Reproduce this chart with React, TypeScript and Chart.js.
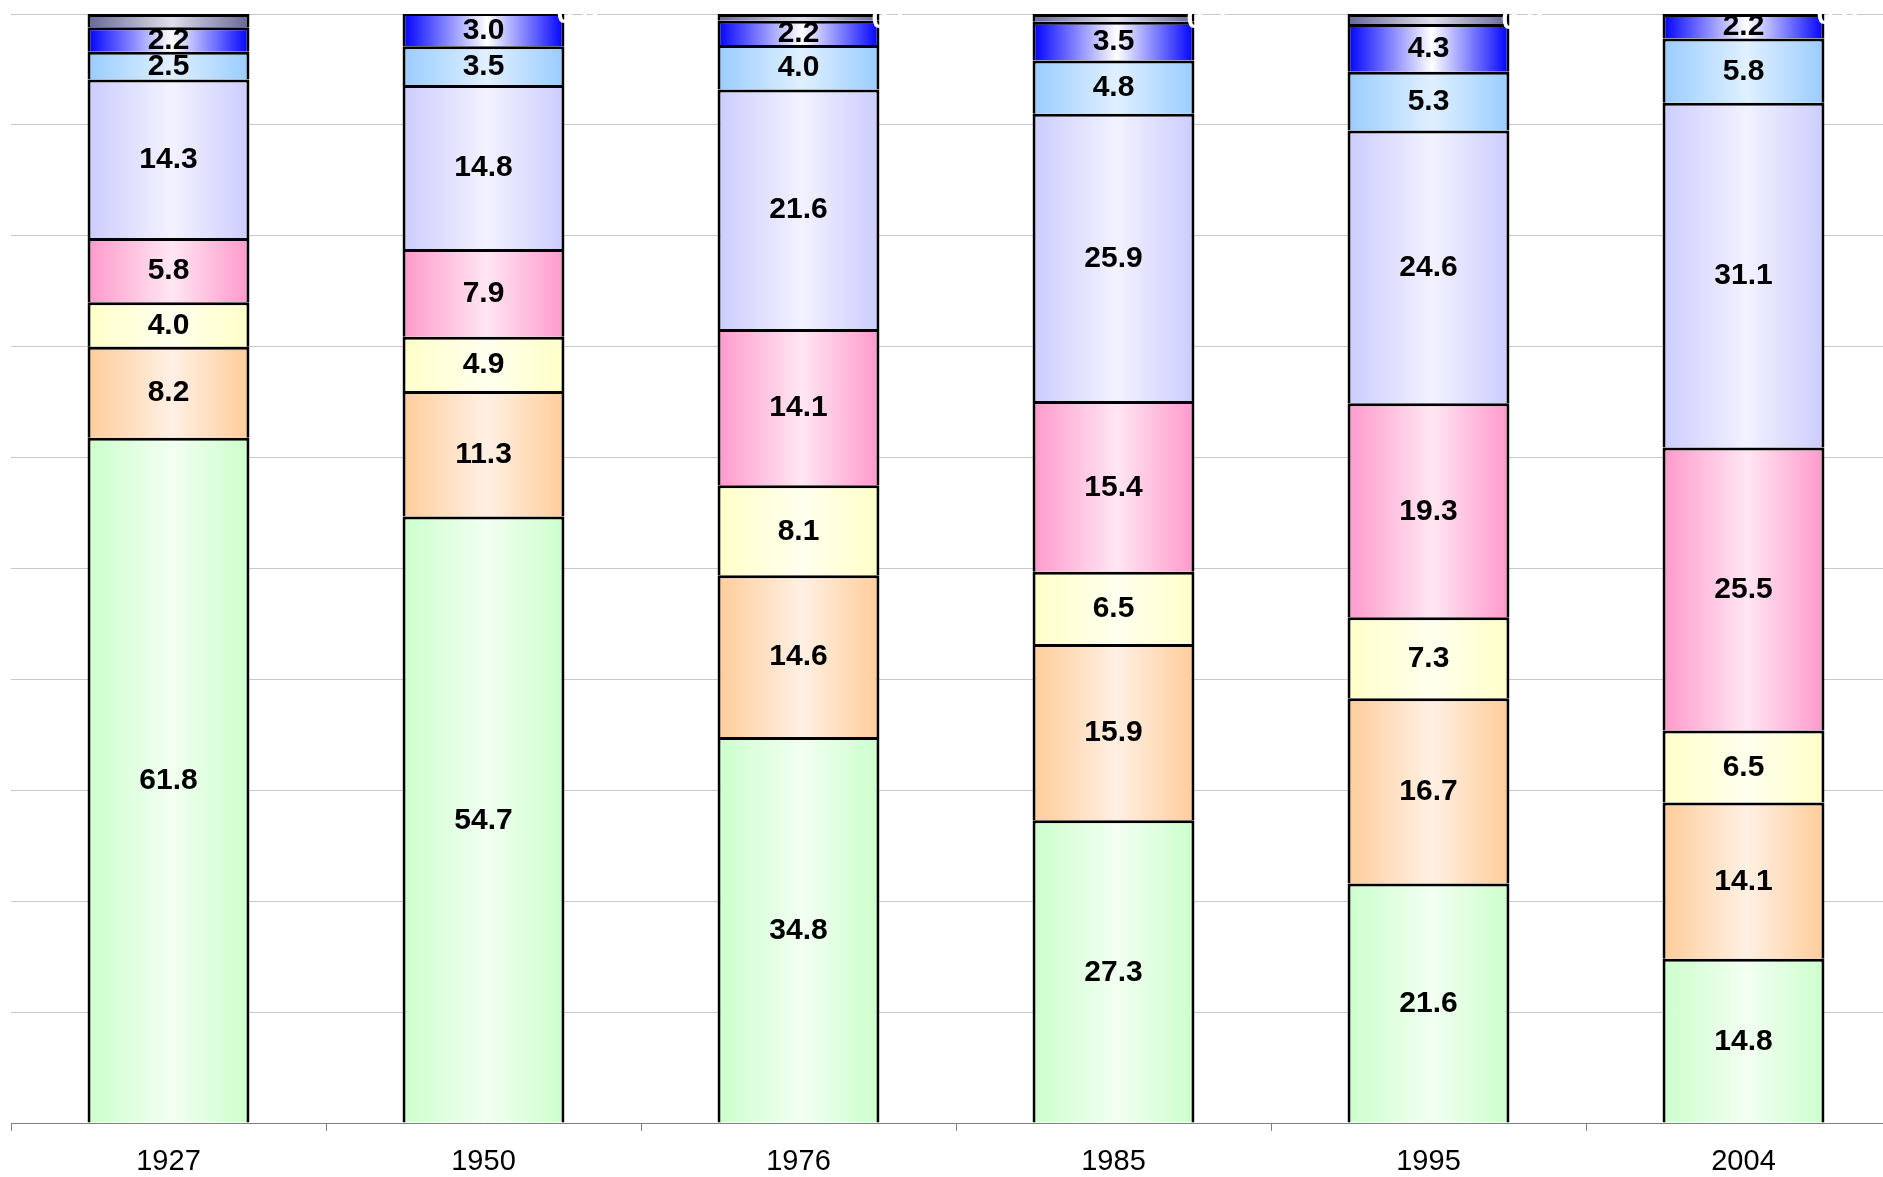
import React, { useEffect, useRef } from "react";
import { Chart, registerables } from "chart.js";

Chart.register(...registerables);

const categories = ["1927", "1950", "1976", "1985", "1995", "2004"];
const seriesGreen = [61.8, 54.7, 34.8, 27.3, 21.6, 14.8];
const seriesOrange = [8.2, 11.3, 14.6, 15.9, 16.7, 14.1];
const seriesYellow = [4.0, 4.9, 8.1, 6.5, 7.3, 6.5];
const seriesPink = [5.8, 7.9, 14.1, 15.4, 19.3, 25.5];
const seriesLavender = [14.3, 14.8, 21.6, 25.9, 24.6, 31.1];
const seriesLightBlue = [2.5, 3.5, 4.0, 4.8, 5.3, 5.8];
const seriesBlue = [2.2, 3.0, 2.2, 3.5, 4.3, 2.2];
const seriesGray = [1.2, 0.0, 0.6, 0.7, 0.9, 0.0];

const BAR_PCT = 0.514;

const seriesDefs = [
  { data: seriesGreen, edge: "#ccffcc", light: "#f2fff2", labelColor: "#000" },
  { data: seriesOrange, edge: "#ffcc99", light: "#fff0e4", labelColor: "#000" },
  { data: seriesYellow, edge: "#ffffc8", light: "#ffffee", labelColor: "#000" },
  { data: seriesPink, edge: "#ff99cc", light: "#ffe6f2", labelColor: "#000" },
  { data: seriesLavender, edge: "#ccccff", light: "#f2f2ff", labelColor: "#000" },
  { data: seriesLightBlue, edge: "#99ccff", light: "#e0f0ff", labelColor: "#000" },
  { data: seriesBlue, edge: "#0000ff", light: "#ffffff", labelColor: "#000" },
  { data: seriesGray, edge: "#666699", light: "#dedeea", labelColor: "#fff" },
];

export default function App() {
  const ref = useRef<HTMLCanvasElement | null>(null);

  useEffect(() => {
    if (!ref.current) return;

    const makeBg = (edge: string, light: string) => (ctx: any) => {
      const chart = ctx.chart;
      const xs = chart.scales && chart.scales.x;
      if (!xs || ctx.dataIndex === undefined || !chart.chartArea) return edge;
      const w = (xs.width / categories.length) * BAR_PCT;
      const cx = xs.getPixelForValue(ctx.dataIndex);
      const g = chart.ctx.createLinearGradient(cx - w / 2, 0, cx + w / 2, 0);
      g.addColorStop(0, edge);
      g.addColorStop(0.52, light);
      g.addColorStop(1, edge);
      return g;
    };

    const labelPlugin = {
      id: "segLabels",
      afterDatasetsDraw(chart: any) {
        const c = chart.ctx;
        c.save();
        c.font = "bold 30px 'Liberation Sans', Arial, sans-serif";
        c.textBaseline = "middle";
        chart.data.datasets.forEach((ds: any, di: number) => {
          const meta = chart.getDatasetMeta(di);
          const def = seriesDefs[di];
          meta.data.forEach((el: any, i: number) => {
            const v = ds.data[i];
            const cy = (el.y + el.base) / 2;
            if (di === seriesDefs.length - 1) {
              if (v >= 1) return;
              c.fillStyle = def.labelColor;
              c.textAlign = "left";
              c.fillText(v.toFixed(1), el.x + el.width / 2 - 8, cy + 2);
            } else {
              c.fillStyle = def.labelColor;
              c.textAlign = "center";
              c.fillText(v.toFixed(1), el.x, cy + 1);
            }
          });
        });
        c.restore();
      },
    };

    const chart = new Chart(ref.current, {
      type: "bar",
      data: {
        labels: categories,
        datasets: seriesDefs.map((s) => ({
          data: s.data,
          backgroundColor: makeBg(s.edge, s.light),
          borderColor: "#000000",
          borderWidth: 3,
          borderSkipped: "start",
          barPercentage: BAR_PCT,
          categoryPercentage: 1,
        })),
      },
      options: {
        responsive: false,
        animation: false,
        devicePixelRatio: 1,
        layout: { padding: { left: 11, top: 14, right: 9, bottom: 0 } },
        plugins: {
          legend: { display: false },
          tooltip: { enabled: false },
          title: { display: false },
        },
        scales: {
          x: {
            stacked: true,
            offset: true,
            grid: {
              display: true,
              offset: true,
              drawOnChartArea: false,
              drawTicks: true,
              tickLength: 8,
              color: "#808080",
            },
            border: { display: true, color: "#808080", width: 1 },
            ticks: {
              color: "#000000",
              padding: 14,
              maxRotation: 0,
              font: { family: "'Liberation Sans', Arial, sans-serif", size: 29 },
            },
            afterFit: (scale: any) => {
              scale.height = 54;
            },
          },
          y: {
            stacked: true,
            min: 0,
            max: 100,
            ticks: { display: false, stepSize: 10 },
            grid: { color: "#c8c8c8", lineWidth: 1, drawTicks: false },
            border: { display: false },
            afterFit: (scale: any) => {
              scale.width = 0;
            },
          },
        },
      },
      plugins: [labelPlugin],
    });

    return () => chart.destroy();
  }, []);

  return (
    <div
      style={{
        position: "absolute",
        left: 0,
        top: 0,
        width: 1883,
        height: 1177,
        overflow: "hidden",
        background: "#ffffff",
      }}
    >
      <canvas ref={ref} width={1910} height={1177} style={{ display: "block", width: 1910, height: 1177 }} />
    </div>
  );
}
